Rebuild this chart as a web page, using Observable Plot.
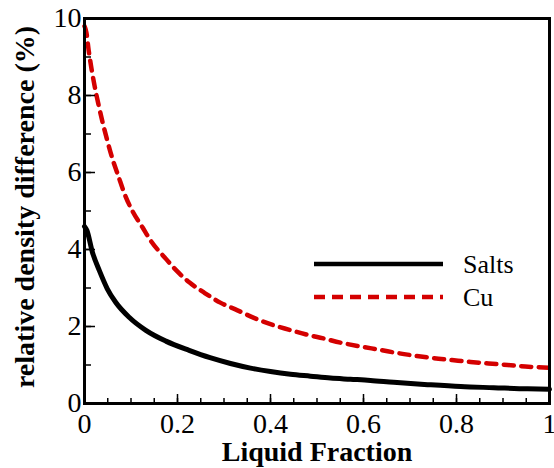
<!DOCTYPE html>
<html><head><meta charset="utf-8">
<script src="https://cdn.jsdelivr.net/npm/d3@7"></script>
<script src="https://cdn.jsdelivr.net/npm/@observablehq/plot@0.6"></script>
<style>
html,body{margin:0;padding:0;background:#fff;}
#wrap{position:relative;width:554px;height:468px;font-family:"Liberation Serif","Times New Roman",serif;}
#wrap svg text{font-family:"Liberation Serif","Times New Roman",serif;}
#legend{position:absolute;left:0;top:0;pointer-events:none;}
</style></head><body>
<div id="wrap"></div>
<script>
// Data
const saltsX = [0, 0.005, 0.017, 0.032, 0.049, 0.067, 0.096, 0.132, 0.175, 0.225, 0.27, 0.314, 0.357, 0.4, 0.443, 0.486, 0.529, 0.572, 0.615, 0.665, 0.738, 0.809, 0.88, 0.953, 1.0];
const saltsY = [4.6, 4.5, 3.93, 3.45, 2.98, 2.63, 2.24, 1.9, 1.62, 1.38, 1.19, 1.04, 0.92, 0.83, 0.76, 0.71, 0.66, 0.63, 0.6, 0.55, 0.49, 0.44, 0.41, 0.38, 0.37];
const cuX = [0, 0.004, 0.009, 0.015, 0.022, 0.03, 0.039, 0.049, 0.06, 0.073, 0.086, 0.103, 0.125, 0.144, 0.172, 0.198, 0.226, 0.256, 0.292, 0.329, 0.363, 0.4, 0.439, 0.475, 0.514, 0.551, 0.594, 0.637, 0.673, 0.712, 0.75, 0.79, 0.83, 0.869, 0.91, 0.948, 1.0];
const cuY = [9.8, 9.64, 9.17, 8.7, 8.23, 7.77, 7.3, 6.83, 6.36, 5.9, 5.45, 5.0, 4.57, 4.2, 3.8, 3.45, 3.14, 2.89, 2.62, 2.42, 2.23, 2.06, 1.92, 1.8, 1.69, 1.58, 1.48, 1.39, 1.31, 1.24, 1.18, 1.13, 1.08, 1.04, 1.0, 0.96, 0.93];
const seriesNames = ["Salts", "Cu"];
const seriesColors = ["#000000", "#d40000"];
const xMajorTicks = [0, 0.2, 0.4, 0.6, 0.8, 1];
const xTickLabels = ["0", "0.2", "0.4", "0.6", "0.8", "1"];
const xMinorTicks = d3.range(0, 1.0001, 0.05);
const yMajorTicks = [0, 2, 4, 6, 8, 10];
const yTickLabels = ["0", "2", "4", "6", "8", "10"];
const yMinorTicks = d3.range(0, 10.001, 1);
const xTitle = "Liquid Fraction";
const yTitle = "relative density difference (%)";

const saltsData = saltsX.map((x, i) => ({x, y: saltsY[i]}));
const cuData = cuX.map((x, i) => ({x, y: cuY[i]}));

const font = '"Liberation Serif","Times New Roman",serif';
const chart = Plot.plot({
  width: 554, height: 468,
  marginLeft: 84, marginRight: 5, marginTop: 18, marginBottom: 65,
  style: {fontFamily: font, background: "#fff", color: "#000", overflow: "visible"},
  x: {domain: [0, 1]},
  y: {domain: [0, 10]},
  marks: [
    Plot.line(cuData, {x: "x", y: "y", stroke: seriesColors[1], strokeWidth: 4.5, strokeDasharray: "10,7.5", curve: "monotone-x"}),
    Plot.line(saltsData, {x: "x", y: "y", stroke: seriesColors[0], strokeWidth: 5, curve: "monotone-x"}),
    Plot.axisX(xMinorTicks, {tickSize: -5, tickFormat: () => "", label: null, strokeWidth: 1.5}),
    Plot.axisX(xMajorTicks, {tickSize: -9, tickFormat: () => "", label: null, strokeWidth: 1.5}),
    Plot.axisX(xMajorTicks, {tickSize: 0, tickPadding: 10, tickFormat: (d, i) => xTickLabels[i], fontSize: 28, fontFamily: font, label: null}),
    Plot.axisY(yMinorTicks, {tickSize: -7, tickFormat: () => "", label: null, strokeWidth: 1.5}),
    Plot.axisY(yMajorTicks, {tickSize: -11, tickFormat: () => "", label: null, strokeWidth: 1.5}),
    Plot.axisY(yMajorTicks, {tickSize: 0, tickPadding: 3, tickFormat: (d, i) => yTickLabels[i], fontSize: 28, fontFamily: font, label: null}),
    Plot.frame({stroke: "#000", strokeWidth: 3}),
    Plot.text([xTitle], {text: d => d, frameAnchor: "bottom", textAnchor: "middle", lineAnchor: "bottom", dy: 57, fontSize: 28, fontWeight: "bold", fontFamily: font}),
    Plot.text([yTitle], {text: d => d, frameAnchor: "left", textAnchor: "middle", rotate: -90, dx: -59, dy: -4, fontSize: 28, fontWeight: "bold", fontFamily: font})
  ]
});
const wrap = document.getElementById("wrap");
wrap.appendChild(chart);

// Legend overlay
const leg = d3.select(wrap).append("svg").attr("id", "legend").attr("width", 554).attr("height", 468);
const rows = [
  {name: seriesNames[0], color: seriesColors[0], dash: null, w: 4.5, y: 264},
  {name: seriesNames[1], color: seriesColors[1], dash: "11,7", w: 4.5, y: 297}
];
rows.forEach(r => {
  leg.append("line").attr("x1", 314).attr("x2", 443).attr("y1", r.y).attr("y2", r.y)
    .attr("stroke", r.color).attr("stroke-width", r.w).attr("stroke-dasharray", r.dash);
  leg.append("text").attr("x", 463).attr("y", r.y + 9).attr("font-family", font).attr("font-size", 26)
    .attr("fill", "#000").text(r.name);
});
</script>
</body></html>
